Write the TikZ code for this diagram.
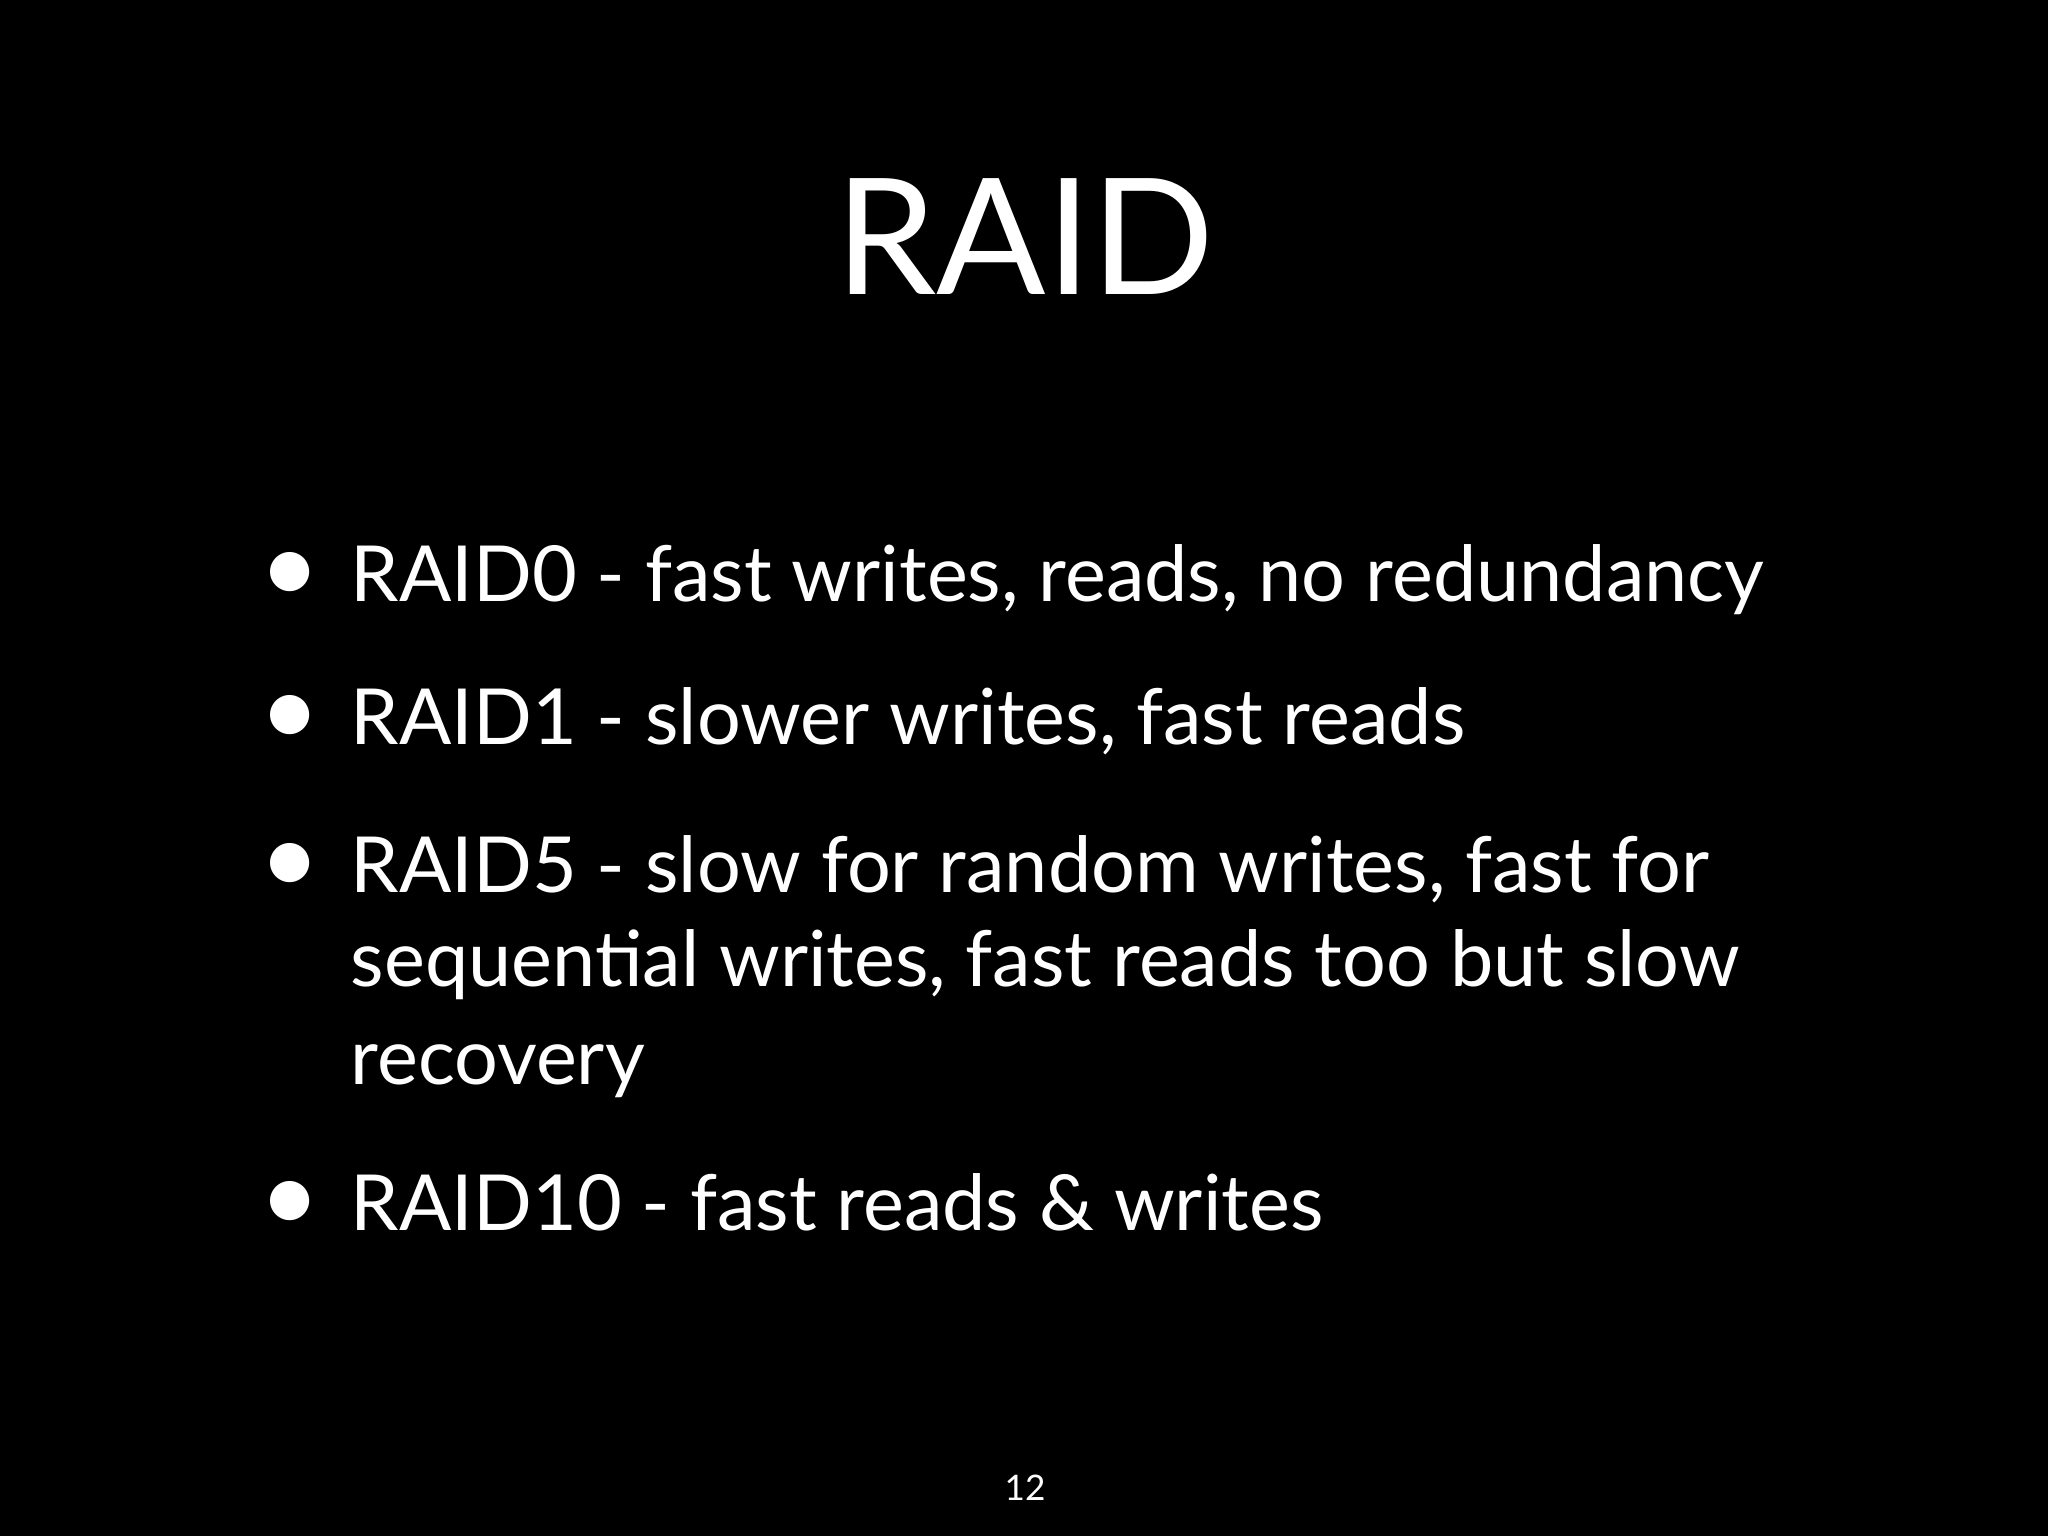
\documentclass[tikz,border=0pt]{standalone}
\usepackage{fontspec}
\setmainfont{Lato}
\begin{document}
\begin{tikzpicture}[x=0.01cm,y=-0.01cm,
  line/.style={anchor=base west,inner sep=0pt,text=white,font=\fontsize{22}{27}\selectfont},
  bul/.style={anchor=base,inner sep=0pt,text=white,font=\fontsize{30}{30}\selectfont}]
\fill[black] (0,0) rectangle (2048,1536);
\useasboundingbox (0,0) rectangle (2048,1536);
\node[anchor=base,inner sep=0pt,text=white,font=\fontsize{46}{50}\selectfont] (title) at (1025,294) {RAID};
\node[bul] (b1) at (290,603) {•};
\node[line] (l1) at (350,601) {RAID0 - fast writes, reads, no redundancy};
\node[bul] (b2) at (290,746) {•};
\node[line] (l2) at (350,744) {RAID1 - slower writes, fast reads};
\node[bul] (b3) at (290,894) {•};
\node[line] (l3) at (350,892) {RAID5 - slow for random writes, fast for};
\node[line] (l3b) at (350,986) {sequential writes, fast reads too but slow};
\node[line] (l3c) at (350,1084) {recovery};
\node[bul] (b4) at (290,1232) {•};
\node[line] (l4) at (350,1230) {RAID10 - fast reads \& writes};
\node[anchor=base,inner sep=0pt,text=white,font=\fontsize{10}{12}\selectfont] (pg) at (1025,1500) {12};
\end{tikzpicture}
\end{document}
